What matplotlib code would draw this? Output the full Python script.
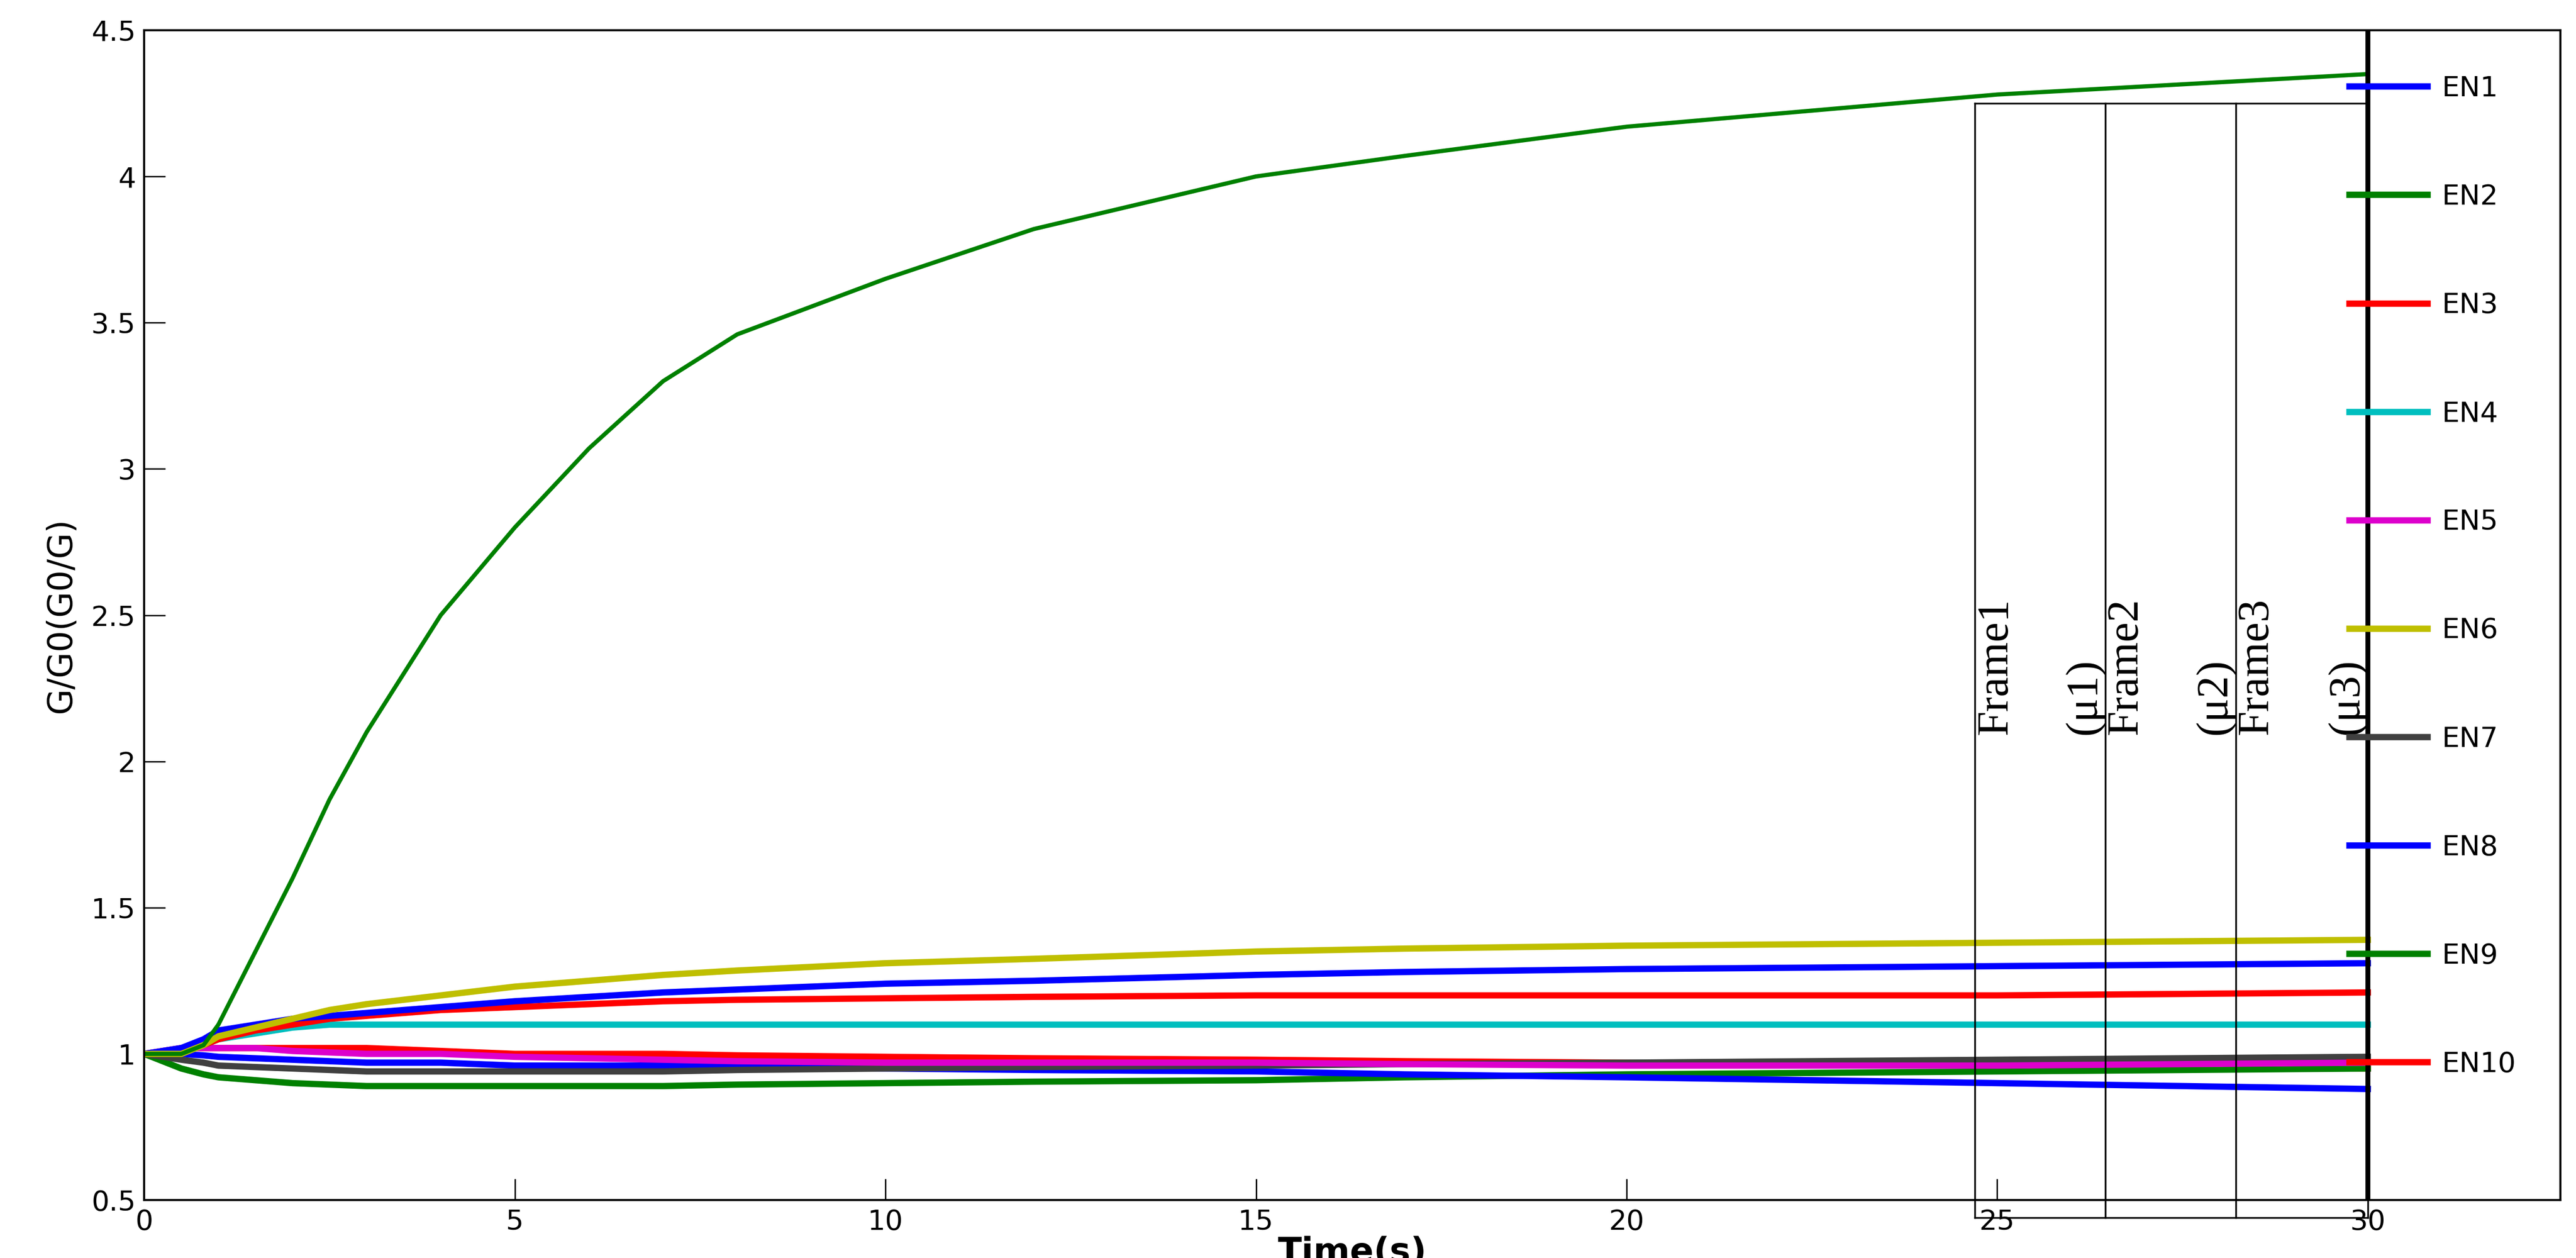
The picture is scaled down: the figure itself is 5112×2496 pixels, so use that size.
import matplotlib
matplotlib.use("Agg")
import matplotlib.pyplot as plt

# values
t = [0, 0.5, 0.8, 1, 1.5, 2, 2.5, 3, 4, 5, 6, 7, 8, 10, 12, 15, 17, 20, 25, 30]
series = {
    "EN1": [1, 1.02, 1.05, 1.08, 1.10, 1.12, 1.13, 1.14, 1.16, 1.18, 1.195, 1.21, 1.22, 1.24, 1.25, 1.27, 1.28, 1.29, 1.30, 1.31],
    "EN2": [1, 1.0, 1.03, 1.1, 1.35, 1.6, 1.87, 2.1, 2.5, 2.8, 3.07, 3.3, 3.46, 3.65, 3.82, 4.0, 4.07, 4.17, 4.28, 4.35],
    "EN3": [1, 1.01, 1.03, 1.05, 1.08, 1.10, 1.12, 1.13, 1.15, 1.16, 1.17, 1.18, 1.185, 1.19, 1.195, 1.20, 1.20, 1.20, 1.20, 1.21],
    "EN4": [1, 1.01, 1.03, 1.05, 1.07, 1.09, 1.10, 1.10, 1.10, 1.10, 1.10, 1.10, 1.10, 1.10, 1.10, 1.10, 1.10, 1.10, 1.10, 1.10],
    "EN5": [1, 1.02, 1.02, 1.02, 1.02, 1.01, 1.005, 1.0, 1.0, 0.99, 0.985, 0.98, 0.975, 0.97, 0.97, 0.97, 0.965, 0.96, 0.96, 0.97],
    "EN6": [1, 1.0, 1.03, 1.06, 1.09, 1.12, 1.15, 1.17, 1.20, 1.23, 1.25, 1.27, 1.285, 1.31, 1.325, 1.35, 1.36, 1.37, 1.38, 1.39],
    "EN7": [1, 0.98, 0.97, 0.96, 0.955, 0.95, 0.945, 0.94, 0.94, 0.94, 0.94, 0.94, 0.945, 0.95, 0.955, 0.96, 0.965, 0.97, 0.98, 0.99],
    "EN8": [1, 1.0, 0.995, 0.99, 0.985, 0.98, 0.975, 0.97, 0.97, 0.96, 0.96, 0.96, 0.955, 0.95, 0.945, 0.94, 0.93, 0.92, 0.90, 0.88],
    "EN9": [1, 0.95, 0.93, 0.92, 0.91, 0.90, 0.895, 0.89, 0.89, 0.89, 0.89, 0.89, 0.895, 0.90, 0.905, 0.91, 0.92, 0.93, 0.94, 0.95],
    "EN10": [1, 1.02, 1.02, 1.02, 1.02, 1.02, 1.02, 1.02, 1.01, 1.0, 1.0, 1.0, 0.995, 0.99, 0.985, 0.98, 0.975, 0.97, 0.96, 0.95],
}
colors = {
    "EN1": "#0000ff", "EN2": "#008000", "EN3": "#ff0000", "EN4": "#00bfbf",
    "EN5": "#dd00cc", "EN6": "#bfbf00", "EN7": "#404040", "EN8": "#0000ff",
    "EN9": "#008000", "EN10": "#ff0000",
}
frame_edges = [24.7, 26.46, 28.22, 30.0]
frame_labels = ["Frame1", "(\u03bc1)", "Frame2", "(\u03bc2)", "Frame3", "(\u03bc3)"]

fig = plt.figure(figsize=(51.12, 24.96), dpi=100)
ax = fig.add_axes([0.056, 0.046, 0.938, 0.930])

draw_order = ["EN10", "EN9", "EN8", "EN7", "EN5", "EN4", "EN3", "EN1", "EN6", "EN2"]
handles = {}
for name in draw_order:
    lw = 6 if name == "EN2" else 9
    handles[name], = ax.plot(t, series[name], color=colors[name], lw=lw, label=name)

ax.set_xlim(0, 32.6)
ax.set_ylim(0.5, 4.5)
ax.set_xticks([0, 5, 10, 15, 20, 25, 30])
ax.set_yticks([0.5, 1, 1.5, 2, 2.5, 3, 3.5, 4, 4.5])
ax.set_yticklabels(["0.5", "1", "1.5", "2", "2.5", "3", "3.5", "4", "4.5"])
ax.tick_params(direction="in", length=30, width=2, labelsize=40, pad=12)
for s in ax.spines.values():
    s.set_linewidth(3)
ax.set_xlabel("Time(s)", fontsize=50, fontweight="bold", labelpad=0)
ax.set_ylabel("G/G0(G0/G)", fontsize=48, labelpad=20)

# thick line at t = 30
ax.axvline(30, color="black", lw=7)

# frame boxes
top, bot = 4.25, 0.44
for x in frame_edges:
    ax.plot([x, x], [bot, top], color="black", lw=2.5, clip_on=False)
ax.plot([frame_edges[0], frame_edges[-1]], [top, top], color="black", lw=2.5, clip_on=False)
ax.plot([frame_edges[0], frame_edges[-1]], [bot, bot], color="black", lw=2.5, clip_on=False)
for i in range(3):
    x0, x1 = frame_edges[i], frame_edges[i + 1]
    ax.text(x0 + 0.28, 2.09, frame_labels[2 * i], rotation=90, fontsize=64,
            family="Liberation Serif", ha="center", va="bottom")
    ax.text(x1 - 0.28, 2.09, frame_labels[2 * i + 1], rotation=90, fontsize=64,
            family="Liberation Serif", ha="center", va="bottom")

names = ["EN%d" % i for i in range(1, 11)]
leg = ax.legend([handles[n] for n in names], names, loc="upper right",
                bbox_to_anchor=(1.0, 1.0), fontsize=40, labelspacing=2.9,
                handlelength=2.8, handletextpad=0.5, borderaxespad=0,
                frameon=False, borderpad=1.6)
for line in leg.get_lines():
    line.set_linewidth(9)

fig.savefig("out.png", dpi=100)
